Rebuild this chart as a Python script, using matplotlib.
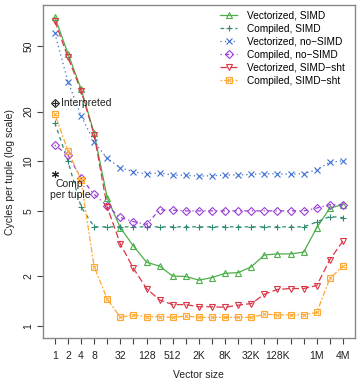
import matplotlib
matplotlib.use('Agg')
import matplotlib.pyplot as plt
from matplotlib.lines import Line2D
from matplotlib.legend_handler import HandlerTuple
import numpy as np

plt.rcParams['font.family'] = ['Liberation Sans', 'DejaVu Sans']

# vector sizes 1 .. 4M (powers of two)
sizes = [2 ** k for k in range(23)]
tick_labels = ['1', '2', '4', '8', '', '32', '', '128', '', '512', '', '2K', '',
               '8K', '', '32K', '', '128K', '', '', '1M', '', '4M']

vec_simd = [75, 45, 27.5, 14.8, 6.0, 3.95, 3.06, 2.44, 2.31, 2.01, 2.0, 1.9,
            1.97, 2.09, 2.11, 2.29, 2.7, 2.74, 2.74, 2.81, 3.95, 5.2, 5.45]
comp_simd = [17.1, 10.0, 5.3, 4.0, 4.0, 4.0, 4.0, 4.0, 4.0, 4.0, 4.0, 4.0,
             4.0, 4.0, 4.0, 4.0, 4.0, 4.0, 4.0, 4.0, 4.28, 4.62, 4.55]
vec_nosimd = [59.7, 30.4, 18.9, 13.1, 10.4, 9.13, 8.63, 8.37, 8.5, 8.25, 8.22, 8.13,
              8.16, 8.25, 8.25, 8.33, 8.4, 8.37, 8.37, 8.4, 8.9, 9.85, 10.05]
comp_nosimd = [12.5, 10.9, 7.9, 6.3, 5.35, 4.56, 4.3, 4.14, 5.07, 5.05, 5.0, 5.0,
               5.0, 5.0, 5.0, 5.0, 5.0, 5.0, 5.0, 5.0, 5.2, 5.45, 5.45]
vec_sht = [71, 42.7, 26.8, 14.5, 5.27, 3.15, 2.24, 1.69, 1.44, 1.35, 1.35, 1.31,
           1.31, 1.30, 1.34, 1.37, 1.56, 1.67, 1.69, 1.69, 1.76, 2.53, 3.28]
comp_sht = [19.3, 11.6, 7.69, 2.29, 1.46, 1.13, 1.17, 1.14, 1.14, 1.13, 1.15, 1.13,
            1.13, 1.13, 1.13, 1.13, 1.18, 1.17, 1.17, 1.17, 1.21, 1.95, 2.31]

interp_cost = 22.5
comp_cost = 8.37

series = [
    ('Vectorized, SIMD', vec_simd, '#4DAF4A', '-', '^'),
    ('Compiled, SIMD', comp_simd, '#2E8B73', (0, (3, 3)), '+'),
    ('Vectorized, no\u2212SIMD', vec_nosimd, '#3F6FD1', (0, (1, 2.5)), 'x'),
    ('Compiled, no\u2212SIMD', comp_nosimd, '#9A3FD5', (0, (1, 2.5, 3.5, 2.5)), 'D'),
    ('Vectorized, SIMD\u2212sht', vec_sht, '#DC3545', (0, (5.5, 2.5)), 'v'),
    ('Compiled, SIMD\u2212sht', comp_sht, '#FFA833', (0, (1.5, 1.5, 4.5, 1.5)), 's'),
]

fig = plt.figure(figsize=(3.6, 3.82), dpi=100)
ax = fig.add_axes([0.119, 0.115, 0.867, 0.872])
ax.set_xscale('log', base=2)
ax.set_yscale('log')

handles = []
for name, vals, col, ls, mk in series:
    ms = 4.2 if mk in ('^', 'v', 's') else 3.6
    if mk == '+' or mk == 'x':
        ms = 4.8
    ax.plot(sizes, vals, color=col, linestyle=ls, linewidth=0.9, marker=mk,
            markersize=ms, markerfacecolor='none', markeredgecolor=col,
            markeredgewidth=0.8)
    h = Line2D([], [], color=col, linestyle=ls, linewidth=0.9, marker=mk,
               markersize=ms, markerfacecolor='none', markeredgecolor=col,
               markeredgewidth=0.8)
    if mk == 's':
        ax.plot(sizes, vals, linestyle='none', marker='x', markersize=3.2,
                color=col, markeredgewidth=0.7)
        hx = Line2D([], [], linestyle='none', marker='x', markersize=3.2,
                    color=col, markeredgewidth=0.7)
        h = (h, hx)
    handles.append(h)

# reference points
ax.plot([1], [interp_cost], linestyle='none', marker='D', markersize=3.6,
        markerfacecolor='none', markeredgecolor='#222222', markeredgewidth=0.8)
ax.plot([1], [interp_cost], linestyle='none', marker='+', markersize=4.5,
        color='#222222', markeredgewidth=0.8)
ax.text(1.35, interp_cost, 'Interpreted', fontsize=7.5, va='center', ha='left',
        color='#222222')
ax.plot([1], [comp_cost], linestyle='none', marker=(6, 2, 0), markersize=5,
        color='#222222', markeredgewidth=0.8)
ax.text(2.3, comp_cost * 0.93, 'Comp.\nper tuple', fontsize=7.5, va='top',
        ha='center', color='#222222', linespacing=1.05)

ax.set_xlim(2 ** -0.917, 2 ** 22.917)
ax.set_ylim(0.846, 88.7)

ax.set_xticks(sizes)
ax.set_xticklabels(tick_labels)
ax.xaxis.set_minor_locator(matplotlib.ticker.NullLocator())
ax.set_yticks([1, 2, 5, 10, 20, 50])
ax.set_yticklabels(['1', '2', '5', '10', '20', '50'], rotation=90, va='center')
ax.yaxis.set_minor_locator(matplotlib.ticker.NullLocator())
ax.tick_params(axis='both', labelsize=7.5, length=4, width=0.8,
               color='#444444', labelcolor='#222222', pad=5)
ax.tick_params(axis='y', pad=3)

for sp in ax.spines.values():
    sp.set_color('#888888')
    sp.set_linewidth(1.0)

ax.set_xlabel('Vector size', fontsize=7.5, color='#222222', labelpad=7)
ax.set_ylabel('Cycles per tuple (log scale)', fontsize=7.5, color='#222222',
              labelpad=6)

ax.legend(handles, [s[0] for s in series], loc='upper left',
          bbox_to_anchor=(0.555, 0.995), frameon=False, fontsize=7.3,
          handlelength=1.7, handletextpad=1.0, labelspacing=0.3,
          borderaxespad=0.0,
          handler_map={tuple: HandlerTuple(ndivide=1)})

fig.savefig('out.png', dpi=100)
